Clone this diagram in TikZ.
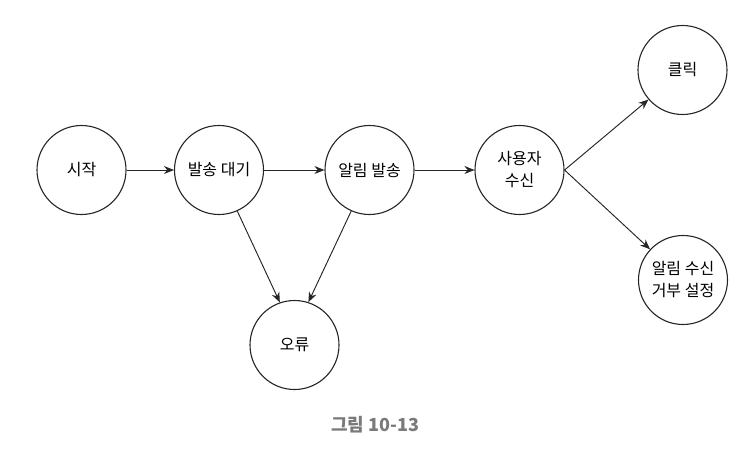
\documentclass[tikz,border=0pt]{standalone}
\usepackage{fontspec}
\setmainfont{Noto Sans CJK KR}
\usetikzlibrary{arrows.meta}
\begin{document}
\begin{tikzpicture}[x=1pt,y=-1pt,
  state/.style={circle,draw=black!85,line width=1.1pt,minimum size=89pt,inner sep=0pt,
    align=center,font=\fontsize{16}{22}\selectfont},
  flow/.style={line width=0.95pt,draw=black!85,-{Stealth[length=10pt,width=8pt]}}]
\useasboundingbox (0,0) rectangle (749,457);
\node[state] (start) at (81.5,170) {시작};
\node[state] (wait) at (219,170) {발송 대기};
\node[state] (send) at (369.5,170) {알림 발송};
\node[state] (recv) at (519.5,170) {사용자\\수신};
\node[state] (click) at (682.5,70) {클릭};
\node[state] (optout) at (683,280) {알림 수신\\거부 설정};
\node[state] (err) at (294.5,345) {오류};
\node[font=\bfseries\fontsize{18}{20}\selectfont,text=black!52] (cap) at (375,425) {그림 10-13};
\draw[flow] (start.east) -- (wait.west);
\draw[flow] (wait.east) -- (send.west);
\draw[flow] (send.east) -- (recv.west);
\draw[flow] (recv.east) -- (click.-139);
\draw[flow] (recv.east) -- (optout.137);
\draw[flow] (wait.-66) -- (err.109);
\draw[flow] (send.-114) -- (err.72);
\end{tikzpicture}
\end{document}
